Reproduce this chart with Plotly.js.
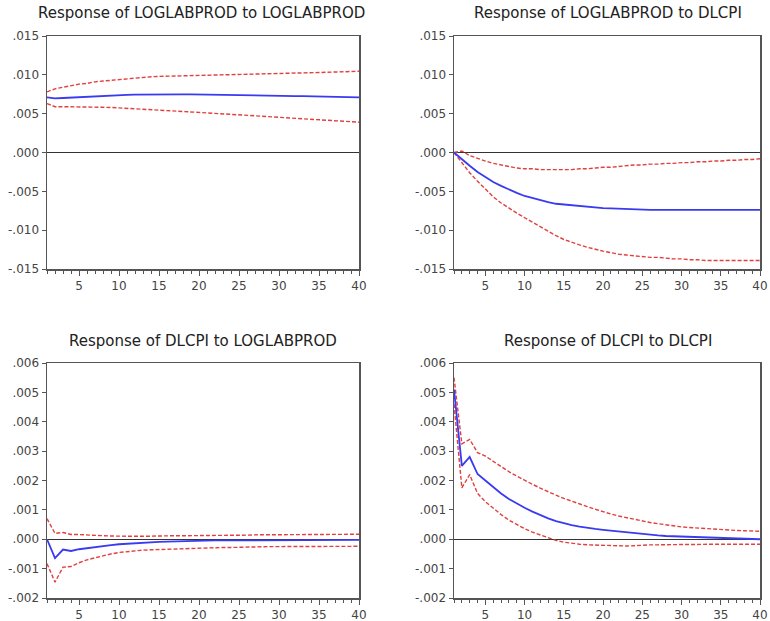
<!DOCTYPE html>
<html><head><meta charset="utf-8">
<script src="https://cdn.plot.ly/plotly-3.0.1.min.js"></script>
<style>html,body{margin:0;padding:0;background:#fff}#chart{width:770px;height:621px}</style>
</head><body><div id="chart"></div>
<script>
var periods = [];
for (var i = 1; i <= 40; i++) periods.push(i);

var titles = ["Response of LOGLABPROD to LOGLABPROD", "Response of LOGLABPROD to DLCPI",
              "Response of DLCPI to LOGLABPROD", "Response of DLCPI to DLCPI"];

var topTickVals = [-0.015, -0.010, -0.005, 0, 0.005, 0.010, 0.015];
var topTickText = ["-.015", "-.010", "-.005", ".000", ".005", ".010", ".015"];
var botTickVals = [-0.002, -0.001, 0, 0.001, 0.002, 0.003, 0.004, 0.005, 0.006];
var botTickText = ["-.002", "-.001", ".000", ".001", ".002", ".003", ".004", ".005", ".006"];

// Panel 1: LOGLABPROD to LOGLABPROD
var resp1 = [0.00710,0.00698,0.00702,0.00708,0.00714,0.00720,0.00725,0.00730,0.00734,0.00738,
             0.00741,0.00744,0.00746,0.00748,0.00749,0.00750,0.00750,0.00749,0.00748,0.00747,
             0.00746,0.00745,0.00744,0.00743,0.00741,0.00739,0.00737,0.00735,0.00733,0.00731,
             0.00729,0.00727,0.00725,0.00723,0.00721,0.00719,0.00717,0.00715,0.00713,0.00710];
var up1 = [0.0078,0.0082,0.0084,0.0086,0.0088,0.0089,0.0091,0.0092,0.0093,0.0094,
           0.0095,0.0096,0.0097,0.00975,0.0098,0.00982,0.00985,0.00988,0.0099,0.00992,
           0.00995,0.00998,0.0100,0.01005,0.0101,0.01012,0.01014,0.01016,0.01018,0.0102,
           0.01022,0.01024,0.01026,0.01028,0.0103,0.01033,0.01037,0.0104,0.01043,0.01046];
var lo1 = [0.0063,0.0059,0.0059,0.0059,0.0059,0.00588,0.00585,0.00582,0.0058,0.00575,
           0.0057,0.00565,0.0056,0.00553,0.00546,0.0054,0.00534,0.00528,0.00522,0.00516,
           0.0051,0.00504,0.00498,0.00492,0.00486,0.0048,0.00474,0.00468,0.00462,0.00456,
           0.0045,0.00444,0.00438,0.00432,0.00426,0.0042,0.00413,0.00406,0.00398,0.0039];

// Panel 2: LOGLABPROD to DLCPI
var resp2 = [0,-0.0009,-0.0017,-0.0025,-0.0032,-0.0038,-0.0043,-0.0048,-0.0052,-0.0056,
             -0.0059,-0.0062,-0.0064,-0.0066,-0.0067,-0.0068,-0.0069,-0.0070,-0.00708,-0.00715,
             -0.0072,-0.00725,-0.0073,-0.00735,-0.0074,-0.0074,-0.0074,-0.0074,-0.0074,-0.0074,
             -0.0074,-0.0074,-0.0074,-0.0074,-0.0074,-0.0074,-0.00739,-0.00738,-0.00738,-0.00738];
var up2 = [0,0.0002,-0.0004,-0.0008,-0.0011,-0.0014,-0.0016,-0.0018,-0.0020,-0.0021,
           -0.0021,-0.0022,-0.0022,-0.0022,-0.0022,-0.0022,-0.0021,-0.0021,-0.0020,-0.0019,
           -0.0019,-0.0018,-0.0017,-0.0016,-0.0016,-0.0015,-0.0015,-0.0014,-0.0014,-0.0013,
           -0.0013,-0.0012,-0.0012,-0.0011,-0.0011,-0.0010,-0.0010,-0.0009,-0.0009,-0.0008];
var lo2 = [0,-0.0013,-0.0026,-0.0037,-0.0047,-0.0057,-0.0065,-0.0072,-0.0078,-0.0084,
           -0.0090,-0.0096,-0.0101,-0.0107,-0.0112,-0.0116,-0.0119,-0.0122,-0.0125,-0.0127,
           -0.0129,-0.0131,-0.0132,-0.0133,-0.0134,-0.0135,-0.0135,-0.0136,-0.0137,-0.0137,
           -0.0138,-0.0138,-0.0139,-0.0139,-0.0139,-0.0139,-0.0139,-0.0139,-0.0139,-0.0139];

// Panel 3: DLCPI to LOGLABPROD
var resp3 = [0,-0.00064,-0.00035,-0.0004,-0.00034,-0.0003,-0.00026,-0.00023,-0.0002,-0.00017,
             -0.00015,-0.00013,-0.00012,-0.0001,-0.00009,-0.00008,-0.00007,-0.00006,-0.00005,-0.00005,
             -0.00004,-0.00004,-0.00004,-0.00004,-0.00003,-0.00003,-0.00003,-0.00003,-0.00003,-0.00003,
             -0.00002,-0.00002,-0.00002,-0.00002,-0.00002,-0.00002,-0.00002,-0.00002,-0.00002,-0.00002];
var up3 = [0.0007,0.0002,0.00023,0.00016,0.00016,0.00014,0.00013,0.00012,0.00011,0.0001,
           0.0001,0.0001,0.0001,0.00011,0.00011,0.00011,0.00012,0.00012,0.00012,0.00012,
           0.00013,0.00013,0.00013,0.00014,0.00014,0.00014,0.00015,0.00015,0.00016,0.00016,
           0.00016,0.00016,0.00017,0.00017,0.00017,0.00017,0.00017,0.00017,0.00017,0.00017];
var lo3 = [-0.00083,-0.00146,-0.00095,-0.00093,-0.0008,-0.0007,-0.00063,-0.00056,-0.0005,-0.00045,
           -0.00042,-0.0004,-0.00037,-0.00036,-0.00035,-0.00033,-0.00032,-0.00031,-0.0003,-0.0003,
           -0.00029,-0.00029,-0.00028,-0.00028,-0.00027,-0.00027,-0.00026,-0.00026,-0.00025,-0.00025,
           -0.00025,-0.00025,-0.00025,-0.00024,-0.00024,-0.00024,-0.00024,-0.00024,-0.00024,-0.00024];

// Panel 4: DLCPI to DLCPI
var resp4 = [0.0051,0.0025,0.0028,0.00222,0.002,0.00177,0.00156,0.00137,0.00121,0.00107,
             0.00094,0.00082,0.00071,0.00062,0.00054,0.00048,0.00043,0.00038,0.00035,0.00032,
             0.00029,0.00026,0.00023,0.0002,0.00017,0.00015,0.00013,0.00011,0.0001,0.00008,
             0.00007,0.00006,0.00005,0.00005,0.00004,0.00004,0.00003,0.00002,0.00001,0.0];
var up4 = [0.0055,0.00325,0.0034,0.00295,0.00283,0.00265,0.00247,0.0023,0.00215,0.002,
           0.00187,0.00174,0.00161,0.0015,0.00139,0.00129,0.0012,0.00111,0.00102,0.00093,
           0.00086,0.00079,0.00073,0.00067,0.00062,0.00057,0.00053,0.00049,0.00045,0.00042,
           0.0004,0.00038,0.00036,0.00034,0.00033,0.00031,0.0003,0.00029,0.00028,0.00027];
var lo4 = [0.0046,0.00175,0.0022,0.00156,0.00128,0.00105,0.00084,0.00065,0.0005,0.00036,
           0.00024,0.00014,0.00004,-0.00004,-0.0001,-0.00014,-0.00017,-0.00019,-0.0002,-0.00021,
           -0.00023,-0.00024,-0.00023,-0.00022,-0.0002,-0.00019,-0.00019,-0.00018,-0.00018,-0.00018,
           -0.00018,-0.00017,-0.00017,-0.00017,-0.00017,-0.00017,-0.00017,-0.00017,-0.00017,-0.00017];

var BLUE = "#3a3af0", RED = "#e0403f";
var panels = [[resp1, up1, lo1], [resp2, up2, lo2], [resp3, up3, lo3], [resp4, up4, lo4]];
var traces = [];
panels.forEach(function (p, k) {
  var xa = k === 0 ? "x" : "x" + (k + 1), ya = k === 0 ? "y" : "y" + (k + 1);
  traces.push({x: periods, y: p[1], xaxis: xa, yaxis: ya, mode: "lines", line: {color: RED, width: 1.4, dash: "4px,2px"}, hoverinfo: "skip"});
  traces.push({x: periods, y: p[2], xaxis: xa, yaxis: ya, mode: "lines", line: {color: RED, width: 1.4, dash: "4px,2px"}, hoverinfo: "skip"});
  traces.push({x: periods, y: p[0], xaxis: xa, yaxis: ya, mode: "lines", line: {color: BLUE, width: 1.8}, hoverinfo: "skip"});
});

var W = 770, H = 621;
function xd(a, b) { return [a / W, b / W]; }
function yd(top, bot) { return [1 - bot / H, 1 - top / H]; }
var tickFont = {family: "DejaVu Sans, sans-serif", size: 12, color: "#444"};
function xaxis(dom, anchor) {
  return {domain: dom, anchor: anchor, range: [1, 40], tickmode: "linear", tick0: 0, dtick: 5,
    ticks: "outside", ticklen: 5, tickcolor: "#555", showgrid: false, zeroline: false,
    ticklabeloverflow: "allow",
    showline: true, linecolor: "#555", linewidth: 1.5, mirror: true, tickfont: tickFont,
    minor: {dtick: 1, tick0: 0, ticks: "outside", ticklen: 3, tickcolor: "#555", showgrid: false}};
}
function yaxis(dom, anchor, vals, text, rng) {
  return {domain: dom, anchor: anchor, range: rng, tickmode: "array", tickvals: vals, ticktext: text,
    ticks: "outside", ticklen: 4, tickcolor: "#555", showgrid: false,
    zeroline: true, zerolinecolor: "#333", zerolinewidth: 1.3,
    showline: true, linecolor: "#555", linewidth: 1.5, mirror: true, tickfont: tickFont};
}
var titleFont = {family: "DejaVu Sans, sans-serif", size: 15, color: "#222"};
var layout = {
  width: W, height: H, margin: {l: 0, r: 0, t: 0, b: 0}, showlegend: false,
  paper_bgcolor: "#fff", plot_bgcolor: "#fff",
  xaxis: xaxis(xd(47, 359), "y"), yaxis: yaxis(yd(36, 269), "x", topTickVals, topTickText, [-0.015, 0.015]),
  xaxis2: xaxis(xd(454, 760), "y2"), yaxis2: yaxis(yd(36, 269), "x2", topTickVals, topTickText, [-0.015, 0.015]),
  xaxis3: xaxis(xd(47, 359), "y3"), yaxis3: yaxis(yd(363, 598), "x3", botTickVals, botTickText, [-0.002, 0.006]),
  xaxis4: xaxis(xd(454, 760), "y4"), yaxis4: yaxis(yd(363, 598), "x4", botTickVals, botTickText, [-0.002, 0.006]),
  annotations: [
    {text: titles[0], x: 202 / W, y: 1 - 13 / H},
    {text: titles[1], x: 608 / W, y: 1 - 13 / H},
    {text: titles[2], x: 203 / W, y: 1 - 341 / H},
    {text: titles[3], x: 608 / W, y: 1 - 341 / H}
  ].map(function (a) {
    return {text: a.text, x: a.x, y: a.y, xref: "paper", yref: "paper", xanchor: "center", yanchor: "middle", showarrow: false, font: titleFont};
  })
};
Plotly.newPlot("chart", traces, layout, {displayModeBar: false, staticPlot: true});
</script></body></html>
